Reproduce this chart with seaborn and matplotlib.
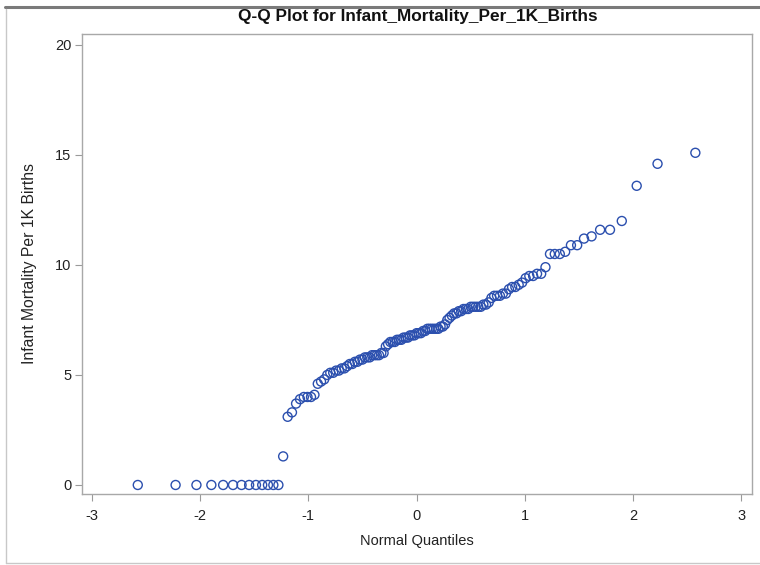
import matplotlib
matplotlib.use("Agg")
import matplotlib.pyplot as plt
import seaborn as sns
import pandas as pd
from statistics import NormalDist
from matplotlib.lines import Line2D

# Sorted observed values (Infant mortality per 1K births)
infant_mortality = [
    0, 0, 0, 0, 0, 0, 0, 0, 0, 0, 0, 0, 0,
    1.3, 3.1, 3.3, 3.7, 3.9, 4.0, 4.0, 4.0, 4.1, 4.6, 4.7, 4.8,
    5.0, 5.1, 5.1, 5.2, 5.2, 5.3, 5.3, 5.4, 5.5, 5.5, 5.6, 5.6, 5.7, 5.7,
    5.8, 5.8, 5.8, 5.9, 5.9, 5.9, 5.9, 6.0, 6.0, 6.3, 6.4, 6.5, 6.5, 6.5,
    6.6, 6.6, 6.6, 6.7, 6.7, 6.7, 6.8, 6.8, 6.8, 6.9, 6.9, 6.9, 7.0, 7.0,
    7.1, 7.1, 7.1, 7.1, 7.1, 7.1, 7.2, 7.2, 7.3, 7.5, 7.6, 7.7, 7.8, 7.8,
    7.9, 7.9, 8.0, 8.0, 8.0, 8.1, 8.1, 8.1, 8.1, 8.1, 8.2, 8.2, 8.3, 8.5,
    8.6, 8.6, 8.6, 8.7, 8.7, 8.9, 9.0, 9.0, 9.1, 9.2, 9.4, 9.5, 9.5, 9.6,
    9.6, 9.9, 10.5, 10.5, 10.5, 10.6, 10.9, 10.9, 11.2, 11.3, 11.6, 11.6,
    12.0, 13.6, 14.6, 15.1,
]
x_ticks = [-3, -2, -1, 0, 1, 2, 3]
y_ticks = [0, 5, 10, 15, 20]
title_text = "Q-Q Plot for Infant_Mortality_Per_1K_Births"
x_label = "Normal Quantiles"
y_label = "Infant Mortality Per 1K Births"

# Theoretical normal quantiles (Blom plotting positions)
n = len(infant_mortality)
nd = NormalDist()
normal_q = [nd.inv_cdf((i - 0.375) / (n + 0.25)) for i in range(1, n + 1)]
df = pd.DataFrame({"q": normal_q, "y": infant_mortality})

sns.set_style("white")
plt.rcParams["font.family"] = ["Liberation Sans", "DejaVu Sans"]

fig = plt.figure(figsize=(7.6, 5.65), dpi=100)
ax = fig.add_axes([82 / 760, 1 - 494 / 565, (752 - 82) / 760, (494 - 34) / 565])

sns.scatterplot(data=df, x="q", y="y", ax=ax, marker="o", s=42,
                facecolor="none", edgecolor="#2B4FAE", linewidth=1.0)

ax.set_xlim(-3.092, 3.10)
ax.set_ylim(-0.41, 20.5)
ax.set_xticks(x_ticks)
ax.set_yticks(y_ticks)
ax.set_xticklabels([str(t) for t in x_ticks])
ax.set_yticklabels([str(t) for t in y_ticks])
ax.tick_params(axis="both", direction="out", length=5, width=0.8,
               color="#9a9a9a", labelsize=10.5, labelcolor="#222222",
               bottom=True, left=True)
ax.tick_params(axis="x", pad=6)
ax.tick_params(axis="y", pad=2.5)
for sp in ax.spines.values():
    sp.set_color("#a8a8a8")
    sp.set_linewidth(1.0)

ax.set_xlabel(x_label, fontsize=10.5, color="#222222", labelpad=8)
ax.set_ylabel(y_label, fontsize=11.3, color="#222222", labelpad=13)

fig.text(418 / 760, 1 - 17 / 565, title_text, ha="center", va="center",
         fontsize=12.4, fontweight="bold", color="#111111")

# Outer frame lines
fig.add_artist(Line2D([5 / 760, 1.0], [1 - 7 / 565, 1 - 7 / 565],
                      transform=fig.transFigure, color="#7a7a7a", lw=2.2))
fig.add_artist(Line2D([6 / 760, 6 / 760], [1 - 9 / 565, 1 - 563 / 565],
                      transform=fig.transFigure, color="#c8c8c8", lw=1.0))
fig.add_artist(Line2D([6 / 760, 1.0], [1 - 563 / 565, 1 - 563 / 565],
                      transform=fig.transFigure, color="#c8c8c8", lw=1.0))

fig.savefig("out.png", dpi=100)
